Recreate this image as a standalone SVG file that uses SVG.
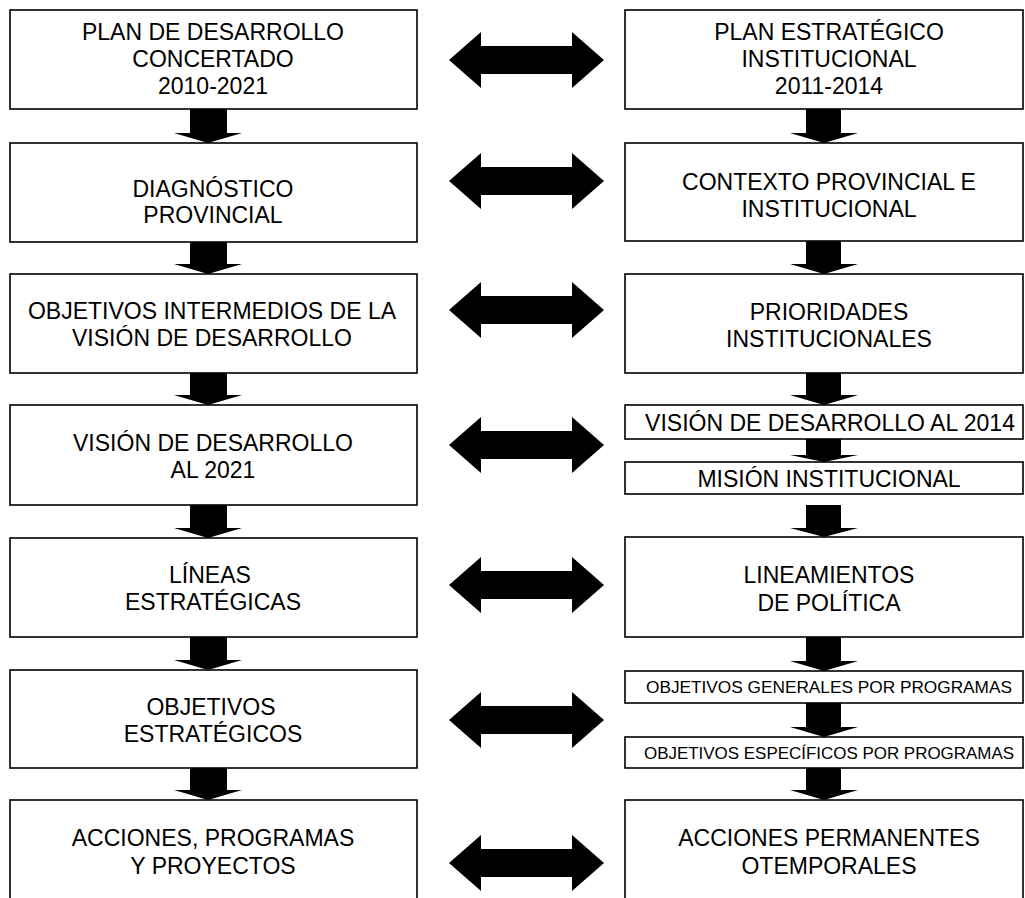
<svg xmlns="http://www.w3.org/2000/svg" width="1025" height="898" viewBox="0 0 1025 898">
<style>
.box{fill:#fff;stroke:#000;stroke-width:1.6}
.t{font-family:"Liberation Sans",Arial,sans-serif;font-size:23px;fill:#000;text-anchor:middle}
.s{font-family:"Liberation Sans",Arial,sans-serif;font-size:17px;fill:#000;text-anchor:middle}
.arr{fill:#000;stroke:none}
</style>
<defs>
<path id="dbl" d="M449,0 L481,-28 L481,-14 L572,-14 L572,-28 L604,0 L572,28 L572,14 L481,14 L481,28 Z"/>
</defs>
<rect width="1025" height="898" fill="#fff"/>

<g id="connectors" class="arr">
<use href="#dbl" y="60"/>
<use href="#dbl" y="181"/>
<use href="#dbl" y="310"/>
<use href="#dbl" y="445"/>
<use href="#dbl" y="585"/>
<use href="#dbl" y="720"/>
<use href="#dbl" y="863"/>
<path d="M190,109 H227 V133 H242 L208,143 L174,133 H190 Z"/>
<path d="M190,242 H227 V264 H242 L208,274 L174,264 H190 Z"/>
<path d="M190,373 H227 V395 H242 L208,405 L174,395 H190 Z"/>
<path d="M190,505 H227 V528 H242 L208,538 L174,528 H190 Z"/>
<path d="M190,637 H227 V660 H242 L208,670 L174,660 H190 Z"/>
<path d="M190,768 H227 V790 H242 L208,800 L174,790 H190 Z"/>
<path d="M806,109 H841 V133 H858 L824,143 L790,133 H806 Z"/>
<path d="M806,241 H841 V264 H858 L824,274 L790,264 H806 Z"/>
<path d="M806,373 H841 V395 H858 L824,405 L790,395 H806 Z"/>
<path d="M806,439 H841 V455 H858 L824,462 L790,455 H806 Z"/>
<path d="M806,505 H841 V528 H858 L824,537 L790,528 H806 Z"/>
<path d="M806,637 H841 V661 H858 L824,671 L790,661 H806 Z"/>
<path d="M806,703 H841 V727 H858 L824,737 L790,727 H806 Z"/>
<path d="M806,768 H841 V790 H858 L824,800 L790,790 H806 Z"/>
</g>

<g id="l1"><rect class="box" x="10" y="10" width="407" height="99"/>
<text class="t" x="213" y="40">PLAN DE DESARROLLO</text><text class="t" x="213" y="67">CONCERTADO</text><text class="t" x="213" y="94">2010-2021</text></g>
<g id="l2"><rect class="box" x="10" y="143" width="407" height="99"/>
<text class="t" x="213" y="197">DIAGNÓSTICO</text><text class="t" x="213" y="223">PROVINCIAL</text></g>
<g id="l3"><rect class="box" x="10" y="274" width="407" height="99"/>
<text class="t" x="212" y="319">OBJETIVOS INTERMEDIOS DE LA</text><text class="t" x="212" y="346">VISIÓN DE DESARROLLO</text></g>
<g id="l4"><rect class="box" x="10" y="405" width="407" height="100"/>
<text class="t" x="213" y="451">VISIÓN DE DESARROLLO</text><text class="t" x="213" y="478">AL 2021</text></g>
<g id="l5"><rect class="box" x="10" y="538" width="407" height="99"/>
<text class="t" x="210" y="583">LÍNEAS</text><text class="t" x="213" y="610">ESTRATÉGICAS</text></g>
<g id="l6"><rect class="box" x="10" y="670" width="407" height="98"/>
<text class="t" x="211" y="715">OBJETIVOS</text><text class="t" x="213" y="742">ESTRATÉGICOS</text></g>
<g id="l7"><rect class="box" x="10" y="800" width="407" height="110"/>
<text class="t" x="213" y="846">ACCIONES, PROGRAMAS</text><text class="t" x="213" y="874">Y PROYECTOS</text></g>

<g id="r1"><rect class="box" x="625" y="10" width="398" height="99"/>
<text class="t" x="829" y="40">PLAN ESTRATÉGICO</text><text class="t" x="829" y="67">INSTITUCIONAL</text><text class="t" x="829" y="94">2011-2014</text></g>
<g id="r2"><rect class="box" x="625" y="143" width="398" height="98"/>
<text class="t" x="829" y="190">CONTEXTO PROVINCIAL E</text><text class="t" x="829" y="217">INSTITUCIONAL</text></g>
<g id="r3"><rect class="box" x="625" y="274" width="398" height="99"/>
<text class="t" x="829" y="320">PRIORIDADES</text><text class="t" x="829" y="347">INSTITUCIONALES</text></g>
<g id="r4a"><rect class="box" x="625" y="405" width="398" height="34"/>
<text class="t" x="830" y="431">VISIÓN DE DESARROLLO AL 2014</text></g>
<g id="r4b"><rect class="box" x="625" y="462" width="398" height="32"/>
<text class="t" x="829" y="487">MISIÓN INSTITUCIONAL</text></g>
<g id="r5"><rect class="box" x="625" y="537" width="398" height="100"/>
<text class="t" x="829" y="583">LINEAMIENTOS</text><text class="t" x="829" y="611">DE POLÍTICA</text></g>
<g id="r6a"><rect class="box" x="625" y="671" width="398" height="32"/>
<text class="s" x="829" y="693" textLength="366" lengthAdjust="spacingAndGlyphs">OBJETIVOS GENERALES POR PROGRAMAS</text></g>
<g id="r6b"><rect class="box" x="625" y="737" width="398" height="31"/>
<text class="s" x="829" y="759" textLength="370" lengthAdjust="spacingAndGlyphs">OBJETIVOS ESPECÍFICOS POR PROGRAMAS</text></g>
<g id="r7"><rect class="box" x="625" y="800" width="398" height="110"/>
<text class="t" x="829" y="846">ACCIONES PERMANENTES</text><text class="t" x="829" y="874">OTEMPORALES</text></g>
</svg>
